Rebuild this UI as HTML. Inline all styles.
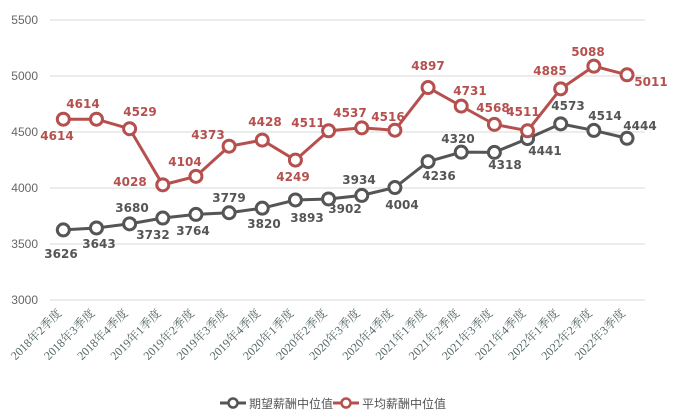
<!DOCTYPE html>
<html><head><meta charset="utf-8"><style>
body{margin:0;background:#fff;}
svg{display:block;font-family:"Liberation Sans","Noto Sans CJK SC",sans-serif;}
.y{font-size:12px;fill:#666;text-anchor:end}
.x{font-size:12px;fill:#566;text-anchor:end;font-family:"Liberation Serif","Noto Serif CJK SC",serif}
.lr{font-size:12px;font-weight:bold;fill:#b5504e;text-anchor:middle;font-family:"DejaVu Sans",sans-serif}
.lg{font-size:12px;font-weight:bold;fill:#555;text-anchor:middle;font-family:"DejaVu Sans",sans-serif}
</style></head><body>
<svg width="676" height="419" viewBox="0 0 676 419" id="s"></svg>
<script>
const s=document.getElementById('s');let h='';
for(let v=3000;v<=5500;v+=500){const y=300-(v-3000)*0.112;h+=`<line x1="50" x2="645" y1="${y}" y2="${y}" stroke="#d9d9d9"/>`;h+=`<text class="y" x="38" y="${y+4}">${v}</text>`;}
const g=[3626,3643,3680,3732,3764,3779,3820,3893,3902,3934,4004,4236,4320,4318,4441,4573,4514,4444];
const r=[4614,4614,4529,4028,4104,4373,4428,4249,4511,4537,4516,4897,4731,4568,4511,4885,5088,5011];
const cats=["2018年2季度","2018年3季度","2018年4季度","2019年1季度","2019年2季度","2019年3季度","2019年4季度","2020年1季度","2020年2季度","2020年3季度","2020年4季度","2021年1季度","2021年2季度","2021年3季度","2021年4季度","2022年1季度","2022年2季度","2022年3季度"];
const X=i=>63.3+i*33.16,Y=v=>300-(v-3000)*0.112;
function ser(d,c){let p=d.map((v,i)=>X(i)+','+Y(v)).join(' ');h+=`<polyline points="${p}" fill="none" stroke="${c}" stroke-width="3"/>`;d.forEach((v,i)=>h+=`<circle cx="${X(i)}" cy="${Y(v)}" r="6" fill="#fff" stroke="${c}" stroke-width="3"/>`);}
ser(g,'#555555');ser(r,'#b5504e');
const gl=[[61,254],[99,244],[132,208],[153,235],[193,231],[229,198],[264,224],[307,218],[345,209],[359,180],[402,205],[439,176],[458,139],[505,165],[545,151],[568,106],[605,116],[640,126]];
const rl=[[57,136],[83,104],[140,112],[130,182],[185,162],[208,135],[265,122],[293,177],[308,123],[350,113],[388,117],[428,66],[470,91],[493,108],[523,112],[550,71],[588,52],[651,82]];
g.forEach((v,i)=>h+=`<text class="lg" x="${gl[i][0]}" y="${gl[i][1]+4}">${v}</text>`);
r.forEach((v,i)=>h+=`<text class="lr" x="${rl[i][0]}" y="${rl[i][1]+4}">${v}</text>`);
cats.forEach((c,i)=>h+=`<text class="x" transform="translate(${X(i)-1},${314}) rotate(-45)">${c}</text>`);
h+=`<line x1="220" x2="246" y1="403" y2="403" stroke="#555" stroke-width="3"/><circle cx="233" cy="403" r="4.5" fill="#fff" stroke="#555" stroke-width="2.5"/><text x="249" y="408" font-size="12" fill="#555">期望薪酬中位值</text>`;
h+=`<line x1="333" x2="359" y1="403" y2="403" stroke="#b5504e" stroke-width="3"/><circle cx="346" cy="403" r="4.5" fill="#fff" stroke="#b5504e" stroke-width="2.5"/><text x="362" y="408" font-size="12" fill="#555">平均薪酬中位值</text>`;
s.innerHTML=h;
</script>
</body></html>
